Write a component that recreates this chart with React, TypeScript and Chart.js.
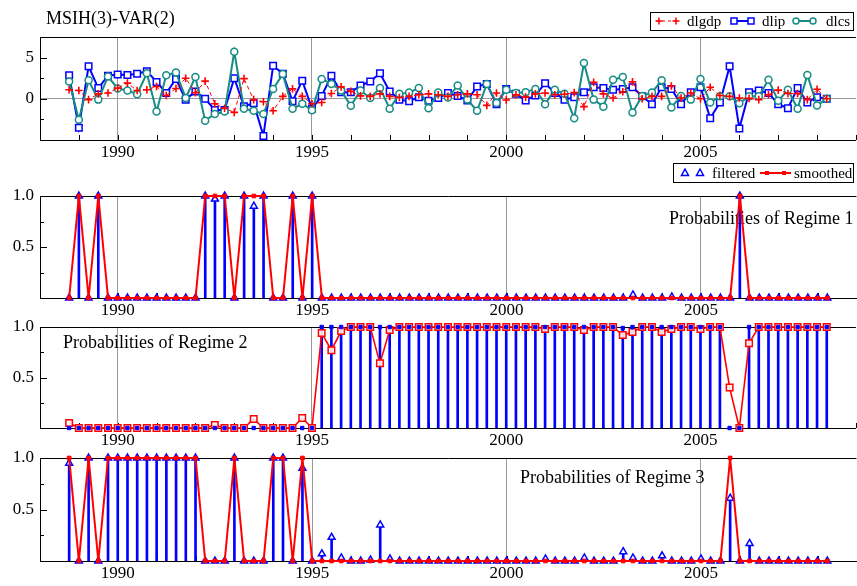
import React, { useEffect, useRef } from "react";
import { Chart, registerables } from "chart.js";

Chart.register(...registerables);

// ---------- data ----------
const dates = [
  1988.75,
  1989.0, 1989.25, 1989.5, 1989.75,
  1990.0, 1990.25, 1990.5, 1990.75,
  1991.0, 1991.25, 1991.5, 1991.75,
  1992.0, 1992.25, 1992.5, 1992.75,
  1993.0, 1993.25, 1993.5, 1993.75,
  1994.0, 1994.25, 1994.5, 1994.75,
  1995.0, 1995.25, 1995.5, 1995.75,
  1996.0, 1996.25, 1996.5, 1996.75,
  1997.0, 1997.25, 1997.5, 1997.75,
  1998.0, 1998.25, 1998.5, 1998.75,
  1999.0, 1999.25, 1999.5, 1999.75,
  2000.0, 2000.25, 2000.5, 2000.75,
  2001.0, 2001.25, 2001.5, 2001.75,
  2002.0, 2002.25, 2002.5, 2002.75,
  2003.0, 2003.25, 2003.5, 2003.75,
  2004.0, 2004.25, 2004.5, 2004.75,
  2005.0, 2005.25, 2005.5, 2005.75,
  2006.0, 2006.25, 2006.5, 2006.75,
  2007.0, 2007.25, 2007.5, 2007.75,
  2008.0, 2008.25,
];

const majorYears = [1990, 1995, 2000, 2005];

const dlgdp = [
  1.1, 1.0, -0.1, 0.6, 0.7, 1.3, 1.9, 1.0, 1.1, 1.5,
  0.4, 1.25, 2.5, 0.75, 2.15, -0.6, -1.15, -1.65, 2.45, -0.1,
  -0.35, -1.45, 0.3, 1.2, 0.3, -0.6, -0.45, 0.65, 1.45, 0.9,
  0.35, 0.3, 0.6, 0.3, 0.15, 0.3, 0.5, 0.6, 0.5, 0.3,
  0.5, 0.6, 0.5, -0.8, 0.7, -0.15, 0.5, 0.2, 0.6, 0.7,
  0.5, 0.55, 0.75, -0.95, 2.0, 0.6, 0.1, 0.85, 2.05, 0.0,
  0.3, 0.3, 1.55, 0.1, 0.7, 0.0, 1.4, 0.4, 0.3, 0.1,
  0.05, -0.1, 0.5, 1.05, 0.65, 0.65, -0.1, 1.15, 0.0,
];

const dlip = [
  2.85, -3.5, 3.95, 1.3, 2.8, 2.95, 2.9, 3.05, 3.35, 2.05,
  0.7, 2.4, -0.1, 0.9, 0.0, -1.35, -1.35, 2.5, -0.9, -0.55,
  -4.5, 4.0, 3.05, -0.3, 2.2, -1.2, 0.35, 2.8, 0.8, 0.8,
  1.6, 2.1, 3.1, 0.9, -0.1, -0.3, 0.2, -0.25, 0.1, 0.7,
  0.35, -0.2, 1.5, 1.8, -0.65, 1.2, 0.6, -0.2, 0.4, 1.9,
  0.7, -0.1, 0.2, 0.8, 1.4, 1.3, 1.1, 1.2, 1.4, 0.3,
  -0.65, 1.4, 1.2, -0.65, 0.8, 1.4, -2.35, -0.45, 3.95, -3.6,
  0.8, 1.0, 0.7, -0.65, -1.15, 1.3, -0.45, 0.2, 0.0,
];

const dlcs = [
  2.1, -2.55, 2.25, -0.1, 2.7, 1.25, 1.0, 0.55, 3.1, -1.55,
  2.85, 3.2, 0.1, 2.65, -2.65, -1.85, -1.55, 5.7, -1.2, -1.45,
  -1.85, 1.2, 3.0, -1.2, -0.6, -1.4, 2.4, 1.8, 1.0, -0.85,
  1.0, 0.1, 1.3, -1.2, 0.6, 0.75, 1.3, -1.15, 0.75, 0.15,
  1.6, -0.1, -1.45, 1.8, -0.5, 1.1, 0.7, 0.8, 1.2, -0.65,
  1.1, 0.6, -2.35, 4.35, -0.1, -0.95, 2.3, 2.65, -1.65, 0.35,
  0.75, 2.25, -1.05, 0.35, -0.1, 2.4, -0.45, 0.3, 0.3, -0.55,
  0.3, 0.3, 2.3, -0.25, 1.1, -1.2, 2.9, -0.8, 0.0,
];

const r1Filtered = [
  0, 1, 0, 1, 0, 0, 0, 0, 0, 0,
  0, 0, 0, 0, 1, 0.97, 1, 0, 1, 0.9,
  1, 0, 0, 1, 0, 1, 0, 0, 0, 0,
  0, 0, 0, 0, 0, 0, 0, 0, 0, 0,
  0, 0, 0, 0, 0, 0, 0, 0, 0, 0,
  0, 0, 0, 0, 0, 0, 0, 0, 0.03, 0,
  0, 0, 0.01, 0, 0, 0, 0, 0, 0, 1,
  0, 0, 0, 0, 0, 0, 0, 0, 0,
];

const r1Smoothed = [
  0, 1, 0, 1, 0, 0, 0, 0, 0, 0,
  0, 0, 0, 0, 1, 1, 1, 0, 1, 1,
  1, 0, 0, 1, 0, 1, 0, 0, 0, 0,
  0, 0, 0, 0, 0, 0, 0, 0, 0, 0,
  0, 0, 0, 0, 0, 0, 0, 0, 0, 0,
  0, 0, 0, 0, 0, 0, 0, 0, 0, 0,
  0, 0, 0, 0, 0, 0, 0, 0, 0, 1,
  0, 0, 0, 0, 0, 0, 0, 0, 0,
];

// regime 2 panel: blue stems with dots, red line with open squares
const r2Stems = [
  0, 0, 0, 0, 0, 0, 0, 0, 0, 0,
  0, 0, 0, 0, 0, 0, 0, 0, 0, 0,
  0, 0, 0, 0, 0, 0, 1, 1, 1, 1,
  1, 1, 1, 1, 1, 1, 1, 1, 1, 1,
  1, 1, 1, 1, 1, 1, 1, 1, 1, 1,
  1, 1, 1, 1, 1, 1, 1, 0.99, 1, 1,
  1, 1, 1, 1, 1, 1, 1, 1, 0, 0,
  1, 1, 1, 1, 1, 1, 1, 1, 1,
];

const r2Line = [
  0.05, 0, 0, 0, 0, 0, 0, 0, 0, 0,
  0, 0, 0, 0, 0, 0.03, 0, 0, 0, 0.09,
  0, 0, 0, 0, 0.1, 0, 0.94, 0.77, 0.96, 1,
  1, 1, 0.64, 0.97, 1, 1, 1, 1, 1, 1,
  1, 1, 1, 1, 1, 1, 1, 1, 1, 0.98,
  1, 1, 1, 0.97, 1, 1, 1, 0.92, 0.95, 1,
  1, 0.95, 0.98, 1, 1, 0.98, 1, 1, 0.4, 0,
  0.84, 1, 1, 1, 1, 1, 1, 1, 1,
];

const r3Filtered = [
  0.95, 0, 1, 0, 1, 1, 1, 1, 1, 1,
  1, 1, 1, 1, 0, 0, 0, 1, 0, 0,
  0, 1, 1, 0, 0.9, 0, 0.07, 0.23, 0.03, 0,
  0, 0.01, 0.35, 0.02, 0, 0, 0, 0, 0, 0,
  0, 0, 0, 0, 0, 0, 0, 0, 0, 0.02,
  0, 0, 0, 0.03, 0, 0, 0, 0.09, 0.03, 0,
  0, 0.05, 0, 0, 0, 0.02, 0, 0, 0.61, 0,
  0.17, 0, 0, 0, 0, 0, 0, 0, 0,
];

const r3Smoothed = [
  1, 0, 1, 0, 1, 1, 1, 1, 1, 1,
  1, 1, 1, 1, 0, 0, 0, 1, 0, 0,
  0, 1, 1, 0, 1, 0, 0, 0, 0, 0,
  0, 0, 0, 0, 0, 0, 0, 0, 0, 0,
  0, 0, 0, 0, 0, 0, 0, 0, 0, 0,
  0, 0, 0, 0, 0, 0, 0, 0, 0, 0,
  0, 0, 0, 0, 0, 0, 0, 0, 1, 0,
  0, 0, 0, 0, 0, 0, 0, 0, 0,
];

// ---------- styling ----------
const FONT = '"Liberation Serif", "Times New Roman", Times, serif';
const CW = 862;
const CH = 586;
const X_MIN = 1988;
const X_MAX = 2009;
const RED = "#ff0000";
const BLUE = "#0000ff";
const TEAL = "#168c84";
const GRID = "#9a9a9a";

const PANELS = [
  { top: 37, bottom: 140 },
  { top: 196, bottom: 298 },
  { top: 327, bottom: 428 },
  { top: 458, bottom: 561 },
];
const X_AXIS_H = 20;

const pts = (arr: number[]) => dates.map((x, i) => ({ x, y: arr[i] }));

function xScale() {
  return {
    type: "linear",
    min: X_MIN,
    max: X_MAX,
    offset: false,
    afterBuildTicks: (s: any) => {
      s.ticks = majorYears.map((v) => ({ value: v }));
    },
    afterFit: (s: any) => {
      s.height = X_AXIS_H;
    },
    grid: { display: true, drawOnChartArea: true, drawTicks: false, color: GRID, lineWidth: 1, offset: false },
    border: { display: true, color: "#000", width: 1 },
    ticks: {
      font: { family: FONT, size: 17 },
      color: "#000",
      padding: 2,
      maxRotation: 0,
      autoSkip: false,
      callback: (v: any) => String(v),
    },
  };
}

function yScale(min: number, max: number, ticks: number[], fmt: (v: number) => string, zeroLine: boolean) {
  return {
    type: "linear",
    min,
    max,
    afterBuildTicks: (s: any) => {
      s.ticks = ticks.map((v) => ({ value: v }));
    },
    afterFit: (s: any) => {
      s.width = 40;
    },
    grid: {
      display: zeroLine,
      drawTicks: false,
      color: (ctx: any) => (ctx.tick && ctx.tick.value === 0 ? GRID : "rgba(0,0,0,0)"),
    },
    border: { display: true, color: "#000", width: 1 },
    ticks: {
      font: { family: FONT, size: 17 },
      color: "#000",
      padding: 6,
      callback: (v: any) => fmt(Number(v)),
    },
  };
}

function line(ctx: CanvasRenderingContext2D, x1: number, y1: number, x2: number, y2: number) {
  ctx.beginPath();
  ctx.moveTo(x1, y1);
  ctx.lineTo(x2, y2);
  ctx.stroke();
}

type Deco = {
  yMajor: number[];
  yMinor: number[];
  label?: string;
  labelX?: number;
  labelY?: number;
  legend?: "series" | "regime";
  title?: string;
};

function decoPlugin(o: Deco) {
  return {
    id: "deco",
    beforeDatasetsDraw(chart: any) {
      const { ctx, chartArea: a, scales } = chart;
      const x = scales.x;
      const y = scales.y;
      ctx.save();
      ctx.strokeStyle = "#000";
      ctx.lineWidth = 1;
      // top frame line
      line(ctx, a.left, Math.round(a.top) + 0.5, a.right, Math.round(a.top) + 0.5);
      // inward y ticks
      for (const t of o.yMajor) {
        const py = Math.round(y.getPixelForValue(t)) + 0.5;
        line(ctx, a.left, py, a.left + 7, py);
      }
      for (const t of o.yMinor) {
        const py = Math.round(y.getPixelForValue(t)) + 0.5;
        line(ctx, a.left, py, a.left + 4, py);
      }
      // yearly minor ticks on the bottom axis
      for (let yr = Math.ceil(X_MIN); yr <= X_MAX; yr++) {
        const px = Math.round(x.getPixelForValue(yr)) + 0.5;
        line(ctx, px, a.bottom, px, a.bottom - 5);
      }
      if (o.label) {
        ctx.font = `18px ${FONT}`;
        ctx.fillStyle = "#000";
        ctx.textBaseline = "alphabetic";
        ctx.textAlign = "left";
        ctx.fillText(o.label, o.labelX!, o.labelY!);
      }
      ctx.restore();
    },
    afterDraw(chart: any) {
      const { ctx } = chart;
      ctx.save();
      ctx.textBaseline = "alphabetic";
      ctx.textAlign = "left";
      if (o.title) {
        ctx.font = `18px ${FONT}`;
        ctx.fillStyle = "#000";
        ctx.fillText(o.title, 46, 24);
      }
      if (o.legend === "series") {
        const cy = 21;
        ctx.fillStyle = "#fff";
        ctx.fillRect(650, 12, 203, 18);
        ctx.strokeStyle = "#000";
        ctx.lineWidth = 1;
        ctx.strokeRect(650.5, 12.5, 203, 18);
        // dlgdp
        ctx.strokeStyle = RED;
        ctx.lineWidth = 1;
        ctx.setLineDash([3, 3]);
        line(ctx, 656, cy, 678, cy);
        ctx.setLineDash([]);
        ctx.lineWidth = 1.5;
        for (const px of [659, 676]) {
          line(ctx, px - 3.5, cy, px + 3.5, cy);
          line(ctx, px, cy - 3.5, px, cy + 3.5);
        }
        ctx.font = `15px ${FONT}`;
        ctx.fillStyle = "#000";
        ctx.fillText("dlgdp", 687, 26);
        // dlip
        ctx.strokeStyle = BLUE;
        ctx.lineWidth = 2;
        line(ctx, 731, cy, 753, cy);
        ctx.lineWidth = 1.5;
        for (const px of [734, 751]) {
          ctx.fillStyle = "#fff";
          ctx.fillRect(px - 3, cy - 3, 6, 6);
          ctx.strokeRect(px - 3, cy - 3, 6, 6);
        }
        ctx.fillStyle = "#000";
        ctx.fillText("dlip", 762, 26);
        // dlcs
        ctx.strokeStyle = TEAL;
        ctx.lineWidth = 2;
        line(ctx, 793, cy, 816, cy);
        ctx.lineWidth = 1.5;
        for (const px of [796, 813]) {
          ctx.beginPath();
          ctx.arc(px, cy, 3, 0, Math.PI * 2);
          ctx.fillStyle = "#fff";
          ctx.fill();
          ctx.stroke();
        }
        ctx.fillStyle = "#000";
        ctx.fillText("dlcs", 826, 26);
      }
      if (o.legend === "regime") {
        const cy = 173;
        ctx.fillStyle = "#fff";
        ctx.fillRect(673, 163, 180, 19);
        ctx.strokeStyle = "#000";
        ctx.lineWidth = 1;
        ctx.strokeRect(673.5, 163.5, 180, 19);
        ctx.strokeStyle = BLUE;
        ctx.lineWidth = 1.5;
        for (const px of [685, 700]) {
          ctx.beginPath();
          ctx.moveTo(px, cy - 4);
          ctx.lineTo(px - 3.5, cy + 2.5);
          ctx.lineTo(px + 3.5, cy + 2.5);
          ctx.closePath();
          ctx.stroke();
        }
        ctx.font = `15px ${FONT}`;
        ctx.fillStyle = "#000";
        ctx.fillText("filtered", 712, 178);
        ctx.strokeStyle = RED;
        ctx.lineWidth = 2;
        line(ctx, 760, cy, 791, cy);
        ctx.fillStyle = RED;
        for (const px of [767, 784]) ctx.fillRect(px - 2, cy - 2, 4, 4);
        ctx.fillStyle = "#000";
        ctx.fillText("smoothed", 794, 178);
      }
      ctx.restore();
    },
  };
}

function baseOptions(panel: { top: number; bottom: number }, y: any) {
  return {
    responsive: false,
    animation: false,
    events: [],
    layout: { padding: { top: panel.top, bottom: CH - panel.bottom - X_AXIS_H, left: 0, right: CW - 860 } },
    plugins: { legend: { display: false }, tooltip: { enabled: false }, title: { display: false } },
    scales: { x: xScale(), y },
  };
}

const fmtInt = (v: number) => String(v);
const fmt1 = (v: number) => v.toFixed(1);

function regimePanel(filtered: number[], smoothed: number[]) {
  return [
    { type: "bar", data: pts(filtered), backgroundColor: BLUE, barThickness: 2, order: 3 },
    {
      type: "line",
      data: pts(filtered),
      showLine: false,
      pointStyle: "triangle",
      pointRadius: 4,
      pointBorderWidth: 1.5,
      pointBorderColor: BLUE,
      pointBackgroundColor: "#fff",
      order: 2,
      clip: false,
    },
    {
      type: "line",
      data: pts(smoothed),
      borderColor: RED,
      borderWidth: 2,
      pointStyle: "rect",
      pointRadius: 2.6,
      pointBorderWidth: 1,
      pointBorderColor: RED,
      pointBackgroundColor: RED,
      order: 1,
      clip: false,
    },
  ];
}

function buildConfigs(): any[] {
  const c1 = {
    type: "line",
    data: {
      datasets: [
        {
          label: "dlgdp",
          data: pts(dlgdp),
          borderColor: RED,
          borderWidth: 1,
          borderDash: [4, 3],
          pointStyle: "cross",
          pointRadius: 3.8,
          pointBorderWidth: 1.6,
          pointBorderColor: RED,
          order: 1,
          clip: false,
        },
        {
          label: "dlip",
          data: pts(dlip),
          borderColor: BLUE,
          borderWidth: 2,
          pointStyle: "rect",
          pointRadius: 4.6,
          pointBorderWidth: 1.5,
          pointBorderColor: BLUE,
          pointBackgroundColor: "#fff",
          order: 3,
          clip: false,
        },
        {
          label: "dlcs",
          data: pts(dlcs),
          borderColor: TEAL,
          borderWidth: 2,
          pointStyle: "circle",
          pointRadius: 3.5,
          pointBorderWidth: 1.5,
          pointBorderColor: TEAL,
          pointBackgroundColor: "#fff",
          order: 2,
          clip: false,
        },
      ],
    },
    options: baseOptions(PANELS[0], yScale(-5, 7.5, [0, 5], fmtInt, true)),
    plugins: [decoPlugin({ yMajor: [0, 5], yMinor: [-2.5, 2.5], title: "MSIH(3)-VAR(2)", legend: "series" })],
  };

  const c2 = {
    type: "line",
    data: { datasets: regimePanel(r1Filtered, r1Smoothed) },
    options: baseOptions(PANELS[1], yScale(0, 1, [0.5, 1], fmt1, false)),
    plugins: [
      decoPlugin({
        yMajor: [0.5, 1],
        yMinor: [0.25, 0.75],
        label: "Probabilities of Regime 1",
        labelX: 669,
        labelY: 224,
        legend: "regime",
      }),
    ],
  };

  const c3 = {
    type: "line",
    data: {
      datasets: [
        { type: "bar", data: pts(r2Stems), backgroundColor: BLUE, barThickness: 2, order: 3 },
        {
          type: "line",
          data: pts(r2Line),
          borderColor: RED,
          borderWidth: 1.6,
          pointStyle: "rect",
          pointRadius: 4.6,
          pointBorderWidth: 1.5,
          pointBorderColor: RED,
          pointBackgroundColor: "rgba(255,255,255,0.85)",
          order: 2,
          clip: false,
        },
        {
          type: "line",
          data: pts(r2Stems),
          showLine: false,
          pointStyle: "rect",
          pointRadius: 2.4,
          pointBorderWidth: 1,
          pointBorderColor: BLUE,
          pointBackgroundColor: BLUE,
          order: 1,
          clip: false,
        },
      ],
    },
    options: baseOptions(PANELS[2], yScale(0, 1, [0.5, 1], fmt1, false)),
    plugins: [
      decoPlugin({
        yMajor: [0.5, 1],
        yMinor: [0.25, 0.75],
        label: "Probabilities of Regime 2",
        labelX: 63,
        labelY: 348,
      }),
    ],
  };

  const c4 = {
    type: "line",
    data: { datasets: regimePanel(r3Filtered, r3Smoothed) },
    options: baseOptions(PANELS[3], yScale(0, 1, [0.5, 1], fmt1, false)),
    plugins: [
      decoPlugin({
        yMajor: [0.5, 1],
        yMinor: [0.25, 0.75],
        label: "Probabilities of Regime 3",
        labelX: 520,
        labelY: 483,
      }),
    ],
  };

  return [c1, c2, c3, c4];
}

export default function App() {
  const r0 = useRef<HTMLCanvasElement>(null);
  const r1 = useRef<HTMLCanvasElement>(null);
  const r2 = useRef<HTMLCanvasElement>(null);
  const r3 = useRef<HTMLCanvasElement>(null);
  const refs = [r0, r1, r2, r3];

  useEffect(() => {
    const cfgs = buildConfigs();
    const charts = cfgs.map((cfg, i) => new Chart(refs[i].current as HTMLCanvasElement, cfg));
    return () => charts.forEach((c) => c.destroy());
  }, []);

  return (
    <div
      style={{
        position: "absolute",
        left: 0,
        top: 0,
        width: 857,
        height: 586,
        overflow: "hidden",
        background: "#fff",
      }}
    >
      {refs.map((r, i) => (
        <canvas
          key={i}
          ref={r}
          width={CW}
          height={CH}
          style={{ position: "absolute", left: 0, top: 0, width: CW, height: CH }}
        />
      ))}
    </div>
  );
}
